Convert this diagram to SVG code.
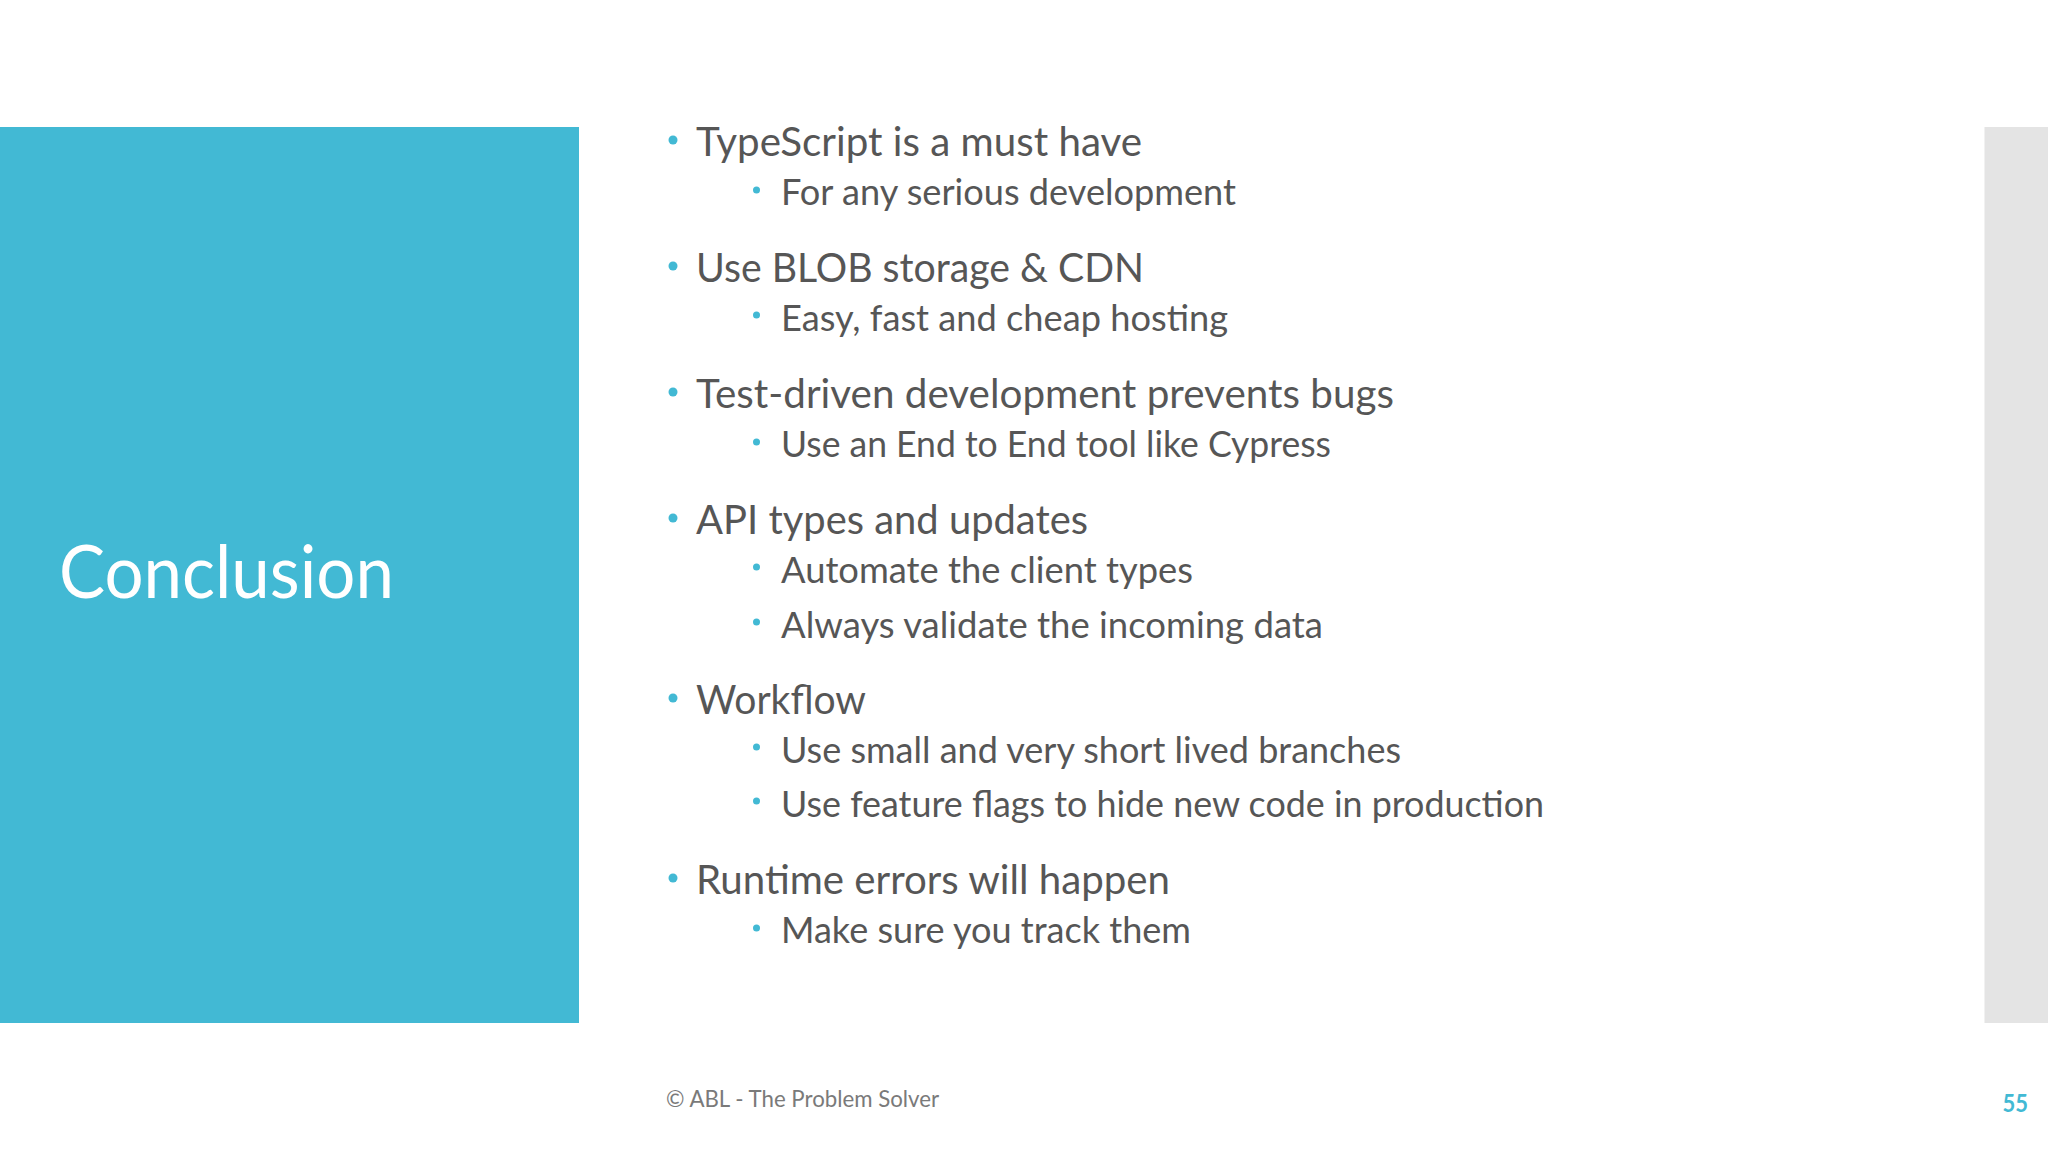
<svg xmlns="http://www.w3.org/2000/svg" width="2048" height="1152" viewBox="0 0 2048 1152">
<style>
text{font-family:"Lato","Open Sans","Liberation Sans",sans-serif;fill:#565656}
.m{font-size:41px}
.s{font-size:36px}
.b{fill:#42b9d4}
</style>
<rect width="2048" height="1152" fill="#ffffff"/>
<rect x="0" y="127" width="579" height="896" fill="#42b9d4"/>
<rect x="1984.5" y="127" width="63.5" height="896" fill="#e4e4e4"/>
<text x="59" y="598" font-size="74" style="fill:#fff" textLength="335" lengthAdjust="spacingAndGlyphs">Conclusion</text>
<g id="bullets">
<circle class="b" cx="673" cy="140" r="4.5"/><circle class="b" cx="756.5" cy="190" r="3.5"/>
<circle class="b" cx="673" cy="266" r="4.5"/><circle class="b" cx="756.5" cy="315" r="3.5"/>
<circle class="b" cx="673" cy="392" r="4.5"/><circle class="b" cx="756.5" cy="442" r="3.5"/>
<circle class="b" cx="673" cy="518" r="4.5"/><circle class="b" cx="756.5" cy="567" r="3.5"/><circle class="b" cx="756.5" cy="622" r="3.5"/>
<circle class="b" cx="673" cy="698" r="4.5"/><circle class="b" cx="756.5" cy="747" r="3.5"/><circle class="b" cx="756.5" cy="801" r="3.5"/>
<circle class="b" cx="673" cy="878" r="4.5"/><circle class="b" cx="756.5" cy="928" r="3.5"/>
</g>
<g id="list">
<text class="m" x="696" y="156" textLength="446" lengthAdjust="spacingAndGlyphs">TypeScript is a must have</text>
<text class="s" x="781" y="205" textLength="455" lengthAdjust="spacingAndGlyphs">For any serious development</text>
<text class="m" x="696" y="282" textLength="448" lengthAdjust="spacingAndGlyphs">Use BLOB storage &amp; CDN</text>
<text class="s" x="781" y="331" textLength="447" lengthAdjust="spacingAndGlyphs">Easy, fast and cheap hosting</text>
<text class="m" x="696" y="408" textLength="698" lengthAdjust="spacingAndGlyphs">Test-driven development prevents bugs</text>
<text class="s" x="781" y="457" textLength="550" lengthAdjust="spacingAndGlyphs">Use an End to End tool like Cypress</text>
<text class="m" x="696" y="534" textLength="392" lengthAdjust="spacingAndGlyphs">API types and updates</text>
<text class="s" x="781" y="583" textLength="412" lengthAdjust="spacingAndGlyphs">Automate the client types</text>
<text class="s" x="781" y="638" textLength="542" lengthAdjust="spacingAndGlyphs">Always validate the incoming data</text>
<text class="m" x="696" y="714" textLength="170" lengthAdjust="spacingAndGlyphs">Workflow</text>
<text class="s" x="781" y="763" textLength="620" lengthAdjust="spacingAndGlyphs">Use small and very short lived branches</text>
<text class="s" x="781" y="817" textLength="763" lengthAdjust="spacingAndGlyphs">Use feature flags to hide new code in production</text>
<text class="m" x="696" y="894" textLength="474" lengthAdjust="spacingAndGlyphs">Runtime errors will happen</text>
<text class="s" x="781" y="943" textLength="410" lengthAdjust="spacingAndGlyphs">Make sure you track them</text>
</g>
<text x="666" y="1107" font-size="23" style="fill:#7a7a7a" textLength="273" lengthAdjust="spacingAndGlyphs">© ABL - The Problem Solver</text>
<text x="2002.5" y="1112" font-size="24" font-weight="700" style="fill:#42b9d4" textLength="25.5" lengthAdjust="spacingAndGlyphs">55</text>
</svg>
